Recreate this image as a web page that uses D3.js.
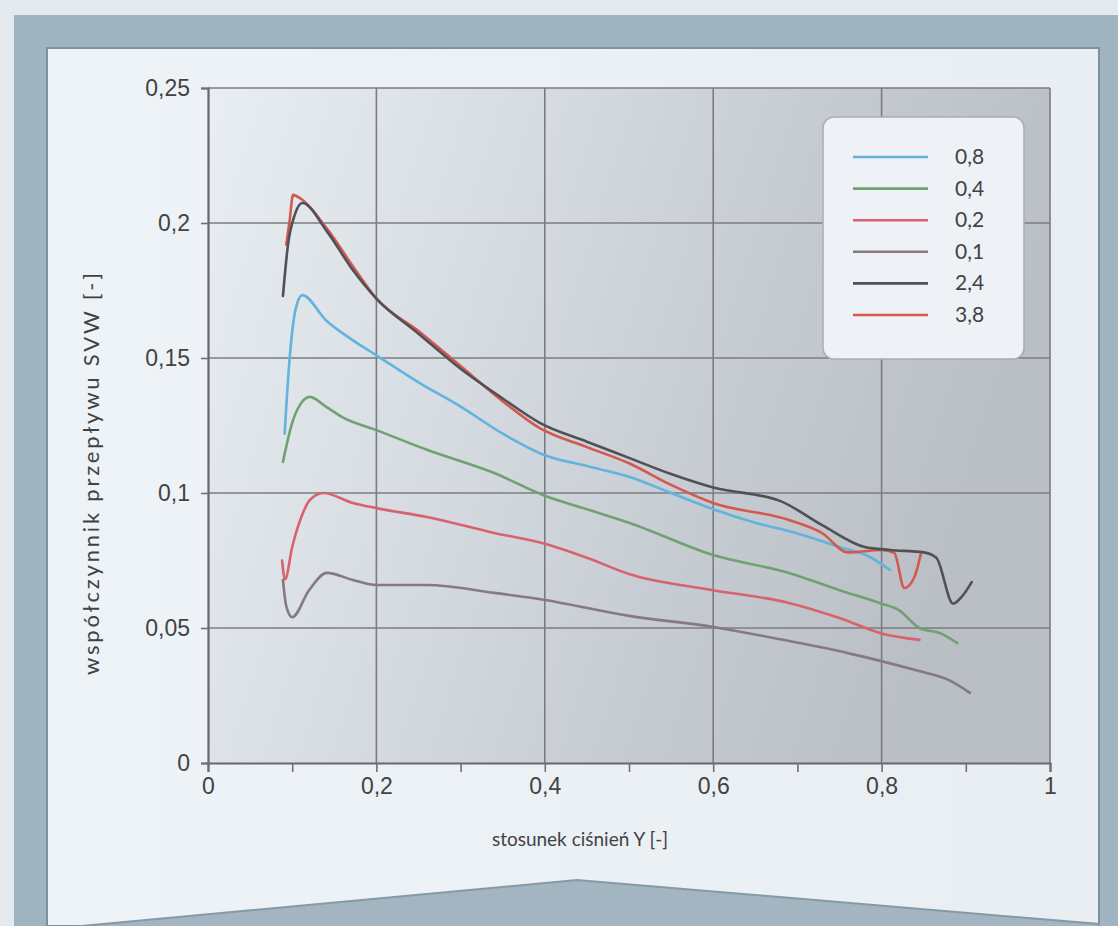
<!DOCTYPE html>
<html>
<head>
<meta charset="utf-8">
<script src="https://cdn.jsdelivr.net/npm/d3@7"></script>
<style>
  body { margin: 0; background: #e4eaef; }
  svg { display: block; font-family: Lato, "Open Sans", sans-serif; }
</style>
</head>
<body>
<div id="visArea"></div>
<script>

// Series labels (legend) and colours
var seriesNames  = ['0,8', '0,4', '0,2', '0,1', '2,4', '3,8'];
var seriesColors = ['#62b3dd', '#6fa172', '#d8626e', '#877981', '#4f5157', '#d5584f'];

// [stosunek ciśnień Y, współczynnik SVW]
var s08 = [[0.091,0.122],[0.097,0.150],[0.104,0.168],[0.112,0.1733],[0.14,0.164],[0.17,0.157],[0.2,0.151],
           [0.25,0.141],[0.3,0.132],[0.35,0.122],[0.4,0.114],[0.45,0.110],[0.5,0.106],[0.55,0.100],
           [0.6,0.094],[0.65,0.089],[0.7,0.085],[0.75,0.080],[0.786,0.0763],[0.81,0.0715]];
var s04 = [[0.089,0.1115],[0.1,0.126],[0.11,0.133],[0.121,0.1356],[0.14,0.132],[0.16,0.128],[0.2,0.1233],
           [0.26,0.116],[0.34,0.1074],[0.4,0.099],[0.45,0.094],[0.5,0.089],[0.6,0.077],[0.69,0.0704],
           [0.75,0.064],[0.8,0.059],[0.82,0.0567],[0.845,0.050],[0.87,0.048],[0.89,0.0444]];
var s02 = [[0.088,0.075],[0.0915,0.068],[0.1,0.080],[0.112,0.092],[0.121,0.0974],[0.137,0.100],[0.172,0.0963],
           [0.2,0.0944],[0.26,0.0911],[0.34,0.0852],[0.4,0.0812],[0.45,0.076],[0.5,0.070],[0.6,0.064],
           [0.69,0.0593],[0.75,0.0537],[0.8,0.048],[0.845,0.0456]];
var s01 = [[0.089,0.0678],[0.093,0.058],[0.1,0.054],[0.12,0.064],[0.141,0.0704],[0.172,0.0678],[0.2,0.0659],
           [0.26,0.0659],[0.34,0.063],[0.4,0.0604],[0.5,0.0545],[0.6,0.0504],[0.68,0.0458],[0.76,0.0407],
           [0.84,0.0344],[0.88,0.0307],[0.905,0.026]];
var s24 = [[0.089,0.173],[0.095,0.192],[0.103,0.203],[0.112,0.2074],[0.141,0.197],[0.172,0.1826],[0.2,0.172],
           [0.25,0.159],[0.3,0.146],[0.35,0.135],[0.394,0.126],[0.45,0.119],[0.5,0.113],[0.55,0.107],
           [0.6,0.102],[0.68,0.097],[0.73,0.088],[0.78,0.080],[0.81,0.0789],[0.85,0.078],[0.865,0.076],
           [0.885,0.059],[0.895,0.0615],[0.907,0.067]];
var s38 = [[0.093,0.192],[0.097,0.201],[0.101,0.2104],[0.11,0.209],[0.141,0.198],[0.172,0.184],[0.2,0.172],
           [0.25,0.160],[0.3,0.147],[0.35,0.134],[0.394,0.124],[0.45,0.117],[0.5,0.111],[0.55,0.103],
           [0.6,0.0963],[0.69,0.090],[0.73,0.085],[0.76,0.078],[0.8,0.0789],[0.815,0.0778],[0.827,0.0648],
           [0.839,0.0689],[0.847,0.078]];
var seriesData = [s08, s04, s02, s01, s24, s38];

// Axes
var xTicks = [0, 0.2, 0.4, 0.6, 0.8, 1];
var xTickLabels = ['0', '0,2', '0,4', '0,6', '0,8', '1'];
var xMinorTicks = [0, 0.1, 0.2, 0.3, 0.4, 0.5, 0.6, 0.7, 0.8, 0.9, 1];
var yTicks = [0, 0.05, 0.1, 0.15, 0.2, 0.25];
var yTickLabels = ['0', '0,05', '0,1', '0,15', '0,2', '0,25'];
var xTitle = 'stosunek ciśnień Y [-]';
var yTitle = 'współczynnik przepływu SVW [-]';


function drawChart(){
  var W = 1118, H = 926;
  var left = 208, right = 1050, top = 88, bottom = 763;
  var textCol = '#424244';

  var svg = d3.select('#visArea').append('svg').attr('width', W).attr('height', H);
  var defs = svg.append('defs');

  var gPlot = defs.append('linearGradient').attr('id', 'plotBg')
    .attr('x1', '0').attr('y1', '0').attr('x2', '1').attr('y2', '0.25');
  gPlot.append('stop').attr('offset', '0').attr('stop-color', '#e9eef2');
  gPlot.append('stop').attr('offset', '0.35').attr('stop-color', '#d7dde2');
  gPlot.append('stop').attr('offset', '0.7').attr('stop-color', '#c5cbd0');
  gPlot.append('stop').attr('offset', '1').attr('stop-color', '#b9bfc4');

  var gPanel = defs.append('linearGradient').attr('id', 'panelBg')
    .attr('x1', '0').attr('y1', '0').attr('x2', '1').attr('y2', '0');
  gPanel.append('stop').attr('offset', '0').attr('stop-color', '#eef3f7');
  gPanel.append('stop').attr('offset', '1').attr('stop-color', '#e9eef2');

  // frame
  svg.append('rect').attr('x', 0).attr('y', 0).attr('width', W).attr('height', H).attr('fill', '#e4eaee');
  svg.append('rect').attr('x', 14).attr('y', 15).attr('width', W - 14).attr('height', H - 15).attr('fill', '#9fb3c0');
  svg.append('rect').attr('x', 47).attr('y', 48).attr('width', 1052).attr('height', H - 48)
    .attr('fill', 'url(#panelBg)').attr('stroke', '#7d919e').attr('stroke-width', 2);
  svg.append('polygon')
    .attr('points', '60,928 577,880 1099,924 1099,928')
    .attr('fill', '#a2b5c1').attr('stroke', '#8599a6').attr('stroke-width', 2);

  var x = d3.scaleLinear().domain([0, 1]).range([left, right]);
  var y = d3.scaleLinear().domain([0, 0.25]).range([bottom, top]);

  svg.append('rect').attr('x', left).attr('y', top)
    .attr('width', right - left).attr('height', bottom - top)
    .attr('fill', 'url(#plotBg)');

  // grid
  var grid = svg.append('g').attr('class', 'grid');
  grid.selectAll('line.v').data(xTicks.slice(1)).enter().append('line')
    .attr('x1', function(d){ return x(d); }).attr('x2', function(d){ return x(d); })
    .attr('y1', top).attr('y2', bottom)
    .style('stroke', '#7b7c82').style('stroke-width', 1.6);
  grid.selectAll('line.h').data(yTicks.slice(1)).enter().append('line')
    .attr('x1', left).attr('x2', right)
    .attr('y1', function(d){ return y(d); }).attr('y2', function(d){ return y(d); })
    .style('stroke', '#7b7c82').style('stroke-width', 1.6);

  // axes
  var yAxis = svg.append('g').attr('transform', 'translate(' + left + ',0)')
    .call(d3.axisLeft(y).tickValues(yTicks).tickSize(7).tickPadding(11)
      .tickFormat(function(d, i){ return yTickLabels[i]; }));
  var xAxis = svg.append('g').attr('transform', 'translate(0,' + bottom + ')')
    .call(d3.axisBottom(x).tickValues(xMinorTicks).tickSize(9).tickPadding(6)
      .tickFormat(function(d){
        var k = xTicks.findIndex(function(t){ return Math.abs(t - d) < 1e-9; });
        return k < 0 ? '' : xTickLabels[k];
      }));
  [xAxis, yAxis].forEach(function(a){
    a.select('.domain').style('stroke', '#67686e').style('stroke-width', 2.2);
    a.selectAll('.tick line').style('stroke', '#6f7076').style('stroke-width', 1.6);
    a.selectAll('.tick text').style('fill', textCol).style('font-size', '23px');
  });

  // titles
  svg.append('text').attr('x', 580).attr('y', 846).attr('text-anchor', 'middle')
    .style('font-size', '19px').style('fill', textCol).text(xTitle);
  svg.append('text').attr('transform', 'translate(99,474) rotate(-90)')
    .attr('text-anchor', 'middle')
    .attr('textLength', 402).attr('lengthAdjust', 'spacing')
    .style('font-size', '22px').style('fill', textCol).text(yTitle);

  // lines
  var line = d3.line()
    .x(function(d){ return x(d[0]); })
    .y(function(d){ return y(d[1]); })
    .curve(d3.curveMonotoneX);
  var order = [3, 2, 1, 0, 5, 4];
  svg.append('g').attr('class', 'lines').selectAll('path')
    .data(order).enter().append('path')
    .attr('d', function(i){ return line(seriesData[i]); })
    .attr('fill', 'none')
    .attr('stroke', function(i){ return seriesColors[i]; })
    .attr('stroke-width', 2.6)
    .attr('stroke-linejoin', 'round').attr('stroke-linecap', 'round');

  // legend
  var lg = svg.append('g').attr('class', 'legend');
  lg.append('rect').attr('x', 823).attr('y', 117).attr('width', 201).attr('height', 242)
    .attr('rx', 11).attr('fill', '#eef2f6').attr('stroke', '#a9adb1').attr('stroke-width', 1.5);
  var rows = lg.selectAll('g.row').data(seriesNames).enter().append('g')
    .attr('transform', function(d, i){ return 'translate(0,' + (157 + i * 31.6) + ')'; });
  rows.append('line').attr('x1', 853).attr('x2', 928).attr('y1', 0).attr('y2', 0)
    .attr('stroke', function(d, i){ return seriesColors[i]; }).attr('stroke-width', 2.6);
  rows.append('text').attr('x', 955).attr('y', 7)
    .style('font-size', '21px').style('fill', textCol).text(function(d){ return d; });
}

drawChart();
</script>
</body>
</html>
